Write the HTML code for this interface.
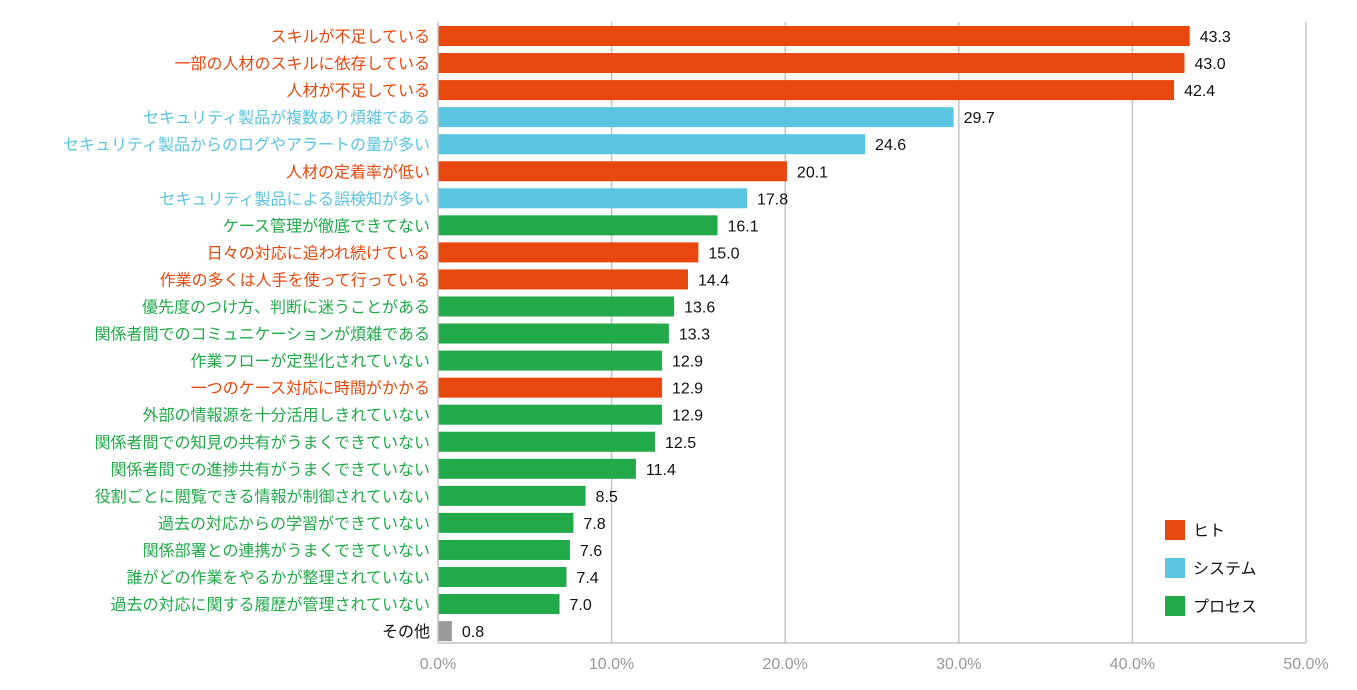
<!DOCTYPE html>
<html><head><meta charset="utf-8"><style>
body{margin:0;background:#fff;width:1357px;height:685px;overflow:hidden;font-family:"Liberation Sans","Noto Sans CJK JP",sans-serif}
</style></head><body>
<svg id="chart" width="1357" height="685" xmlns="http://www.w3.org/2000/svg"></svg>
<script>
const categories=["スキルが不足している","一部の人材のスキルに依存している","人材が不足している","セキュリティ製品が複数あり煩雑である","セキュリティ製品からのログやアラートの量が多い","人材の定着率が低い","セキュリティ製品による誤検知が多い","ケース管理が徹底できてない","日々の対応に追われ続けている","作業の多くは人手を使って行っている","優先度のつけ方、判断に迷うことがある","関係者間でのコミュニケーションが煩雑である","作業フローが定型化されていない","一つのケース対応に時間がかかる","外部の情報源を十分活用しきれていない","関係者間での知見の共有がうまくできていない","関係者間での進捗共有がうまくできていない","役割ごとに閲覧できる情報が制御されていない","過去の対応からの学習ができていない","関係部署との連携がうまくできていない","誰がどの作業をやるかが整理されていない","過去の対応に関する履歴が管理されていない","その他"];
const values=[43.3,43.0,42.4,29.7,24.6,20.1,17.8,16.1,15.0,14.4,13.6,13.3,12.9,12.9,12.9,12.5,11.4,8.5,7.8,7.6,7.4,7.0,0.8];
const groups=["h","h","h","s","s","h","s","p","h","h","p","p","p","h","p","p","p","p","p","p","p","p","o"];
const ticks=[0,10,20,30,40,50];
const legendKeys=["h","s","p"];
const legendLabels=["ヒト","システム","プロセス"];
const colors={h:"#E8470E",s:"#5BC4E0",p:"#22AA4A",o:"#999999"};
const textColors={h:"#E8470E",s:"#5BC4E0",p:"#22AA4A",o:"#111111"};
const svg=document.getElementById('chart');const NS="http://www.w3.org/2000/svg";
const x0=438,x1=1306,top0=22,rowH=27.05,barH=20;
const xs=v=>x0+(v/50)*(x1-x0);
const yc=i=>36+i*rowH;
function el(t,a,p){const e=document.createElementNS(NS,t);for(const k in a)e.setAttribute(k,a[k]);(p||svg).appendChild(e);return e;}
ticks.forEach(t=>{if(t>0){const g=el('line',{x1:xs(t),x2:xs(t),y1:top0,y2:643,stroke:'#c4c4c4','stroke-width':1.5});

}
const l=el('text',{x:xs(t),y:669,'text-anchor':'middle','font-size':16,fill:'#999'});l.textContent=t.toFixed(1)+'%';

});
values.forEach((v,i)=>{const g=groups[i];
const r=el('rect',{x:x0,y:yc(i)-barH/2,width:xs(v)-x0,height:barH,fill:colors[g]});


const vl=el('text',{x:xs(v)+10,y:yc(i)+6,'font-size':16,fill:'#111'});vl.textContent=v.toFixed(1);


const cl=el('text',{x:430,y:yc(i)+6,'text-anchor':'end','font-size':16,fill:textColors[g]});cl.textContent=categories[i];

});
const ax=el('line',{x1:x0,x2:x1,y1:643,y2:643,stroke:'#c4c4c4','stroke-width':1.5});


const ay=el('line',{x1:x0,x2:x0,y1:top0,y2:643,stroke:'#c4c4c4','stroke-width':1.5});


legendKeys.forEach((k,i)=>{const y=530+i*38;
const s=el('rect',{x:1165,y:y-10,width:20,height:20,fill:colors[k]});


const t=el('text',{x:1193,y:y+6,'font-size':16,fill:'#111'});t.textContent=legendLabels[i];

});
</script>
</body></html>
